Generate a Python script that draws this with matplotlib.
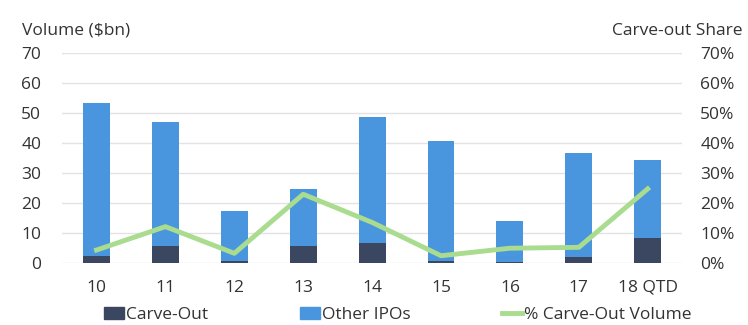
import numpy as np
import matplotlib.pyplot as plt
from matplotlib.patches import Patch
from matplotlib.lines import Line2D
from matplotlib.ticker import FuncFormatter

plt.rcParams['font.family'] = ['Open Sans', 'DejaVu Sans']

years = ["10", "11", "12", "13", "14", "15", "16", "17", "18 QTD"]
carve_out = [2.3, 5.7, 0.5, 5.7, 6.6, 0.7, 0.3, 1.9, 8.3]
total = [53.4, 46.9, 17.4, 24.7, 48.7, 40.6, 14.0, 36.6, 34.2]
other_ipos = [t - c for t, c in zip(total, carve_out)]
carve_share = [4.3, 12.1, 3.2, 22.9, 13.5, 2.4, 4.9, 5.2, 24.7]

navy = "#3b4660"
blue = "#4a96de"
green = "#a9dc8e"
txt = "#333333"

fig = plt.figure(figsize=(7.48, 3.25), dpi=100)
ax = fig.add_axes([0.083, 0.191, 0.829, 0.646])
x = np.arange(len(years))
w = 0.39
ax.bar(x, carve_out, w, color=navy, zorder=3)
ax.bar(x, other_ipos, w, bottom=carve_out, color=blue, zorder=3)
ax.set_ylim(0, 70)
ax.set_xlim(-0.5, len(years) - 0.5)
ax.set_yticks(range(0, 71, 10))
ax.grid(axis='y', color='#e3e3e3', linewidth=1, zorder=0)
for s in ax.spines.values():
    s.set_visible(False)
ax.tick_params(axis='y', length=0, labelsize=12.5, labelcolor=txt, pad=15)
ax.tick_params(axis='x', length=0, labelsize=12.5, labelcolor=txt, pad=12)
ax.set_xticks(x)
ax.set_xticklabels(years)

ax2 = ax.twinx()
ax2.plot(x, carve_share, color=green, linewidth=3.5, zorder=4)
ax2.set_ylim(0, 70)
ax2.set_yticks(range(0, 71, 10))
ax2.yaxis.set_major_formatter(FuncFormatter(lambda v, p: f"{v:.0f}%"))
for s in ax2.spines.values():
    s.set_visible(False)
ax2.tick_params(length=0, labelsize=12.5, labelcolor=txt, pad=13)

fig.text(0.029, 0.905, "Volume ($bn)", fontsize=12.5, color=txt, va='center')
fig.text(0.993, 0.905, "Carve-out Share", fontsize=12.5, color=txt, va='center', ha='right')

handles = [Patch(color=navy), Patch(color=blue), Line2D([], [], color=green, linewidth=3.5)]
labels = ["Carve-Out", "Other IPOs", "% Carve-Out Volume"]
fig.legend(handles, labels, loc='center', bbox_to_anchor=(0.532, 0.03), ncol=3, frameon=False,
           fontsize=12.5, labelcolor=txt, handlelength=1.15, handleheight=0.7, handletextpad=0.1,
           columnspacing=5.3)

fig.savefig("out.png", dpi=100)
